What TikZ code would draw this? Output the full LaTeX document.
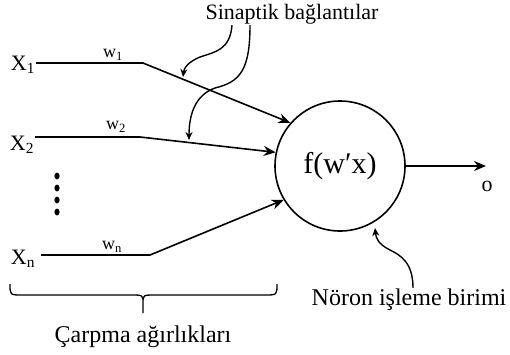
\documentclass[tikz,border=0pt]{standalone}
\usepackage{fontspec}
\setmainfont{Liberation Serif}
\usepackage{tikz}
\usetikzlibrary{arrows.meta, positioning, calc}
\tikzset{
  label/.style={inner sep=1pt, font=\fontsize{22}{24}\selectfont},
  biglabel/.style={inner sep=1pt, font=\fontsize{24}{26}\selectfont},
  wlabel/.style={inner sep=1pt, font=\fontsize{18}{20}\selectfont},
  neuron/.style={
    circle, draw, line width=1.6pt,
    minimum size=130pt, inner sep=0pt,
    font=\fontsize{30}{32}\selectfont,
  },
  wire/.style={line width=1.6pt},
  arrow/.style={-{Stealth[length=12pt, width=10pt]}, line width=1.6pt},
  pointer/.style={-{Stealth[length=8pt, width=7pt]}, line width=1.4pt},
}

\begin{document}
\begin{tikzpicture}[x=1pt, y=-1pt]
  \useasboundingbox (0,0) rectangle (510,354);

  % Inputs
  \node[label] (x1) at (23,65) {X\textsubscript{1}};
  \node[label] (x2) at (22,145) {X\textsubscript{2}};
  \node[label] (xn) at (23,259) {X\textsubscript{n}};

  % Dots
  \foreach \y in {176,188,200,212}
    \fill (57,\y) ellipse (2.6pt and 3.4pt);

  % Neuron
  \node[neuron] (neuron) at (340,166) {f(w′x)};

  % Weight bends
  \coordinate (b1) at (143,63);
  \coordinate (b2) at (140,137);
  \coordinate (bn) at (150,255);

  \node[wlabel] (w1) at (113,55) {w\textsubscript{1}};
  \node[wlabel] (w2) at (116,127) {w\textsubscript{2}};
  \node[wlabel] (wn) at (112,247) {w\textsubscript{n}};

  % Output
  \coordinate (out) at (486,166);
  \node[label] (o) at (487,186) {o};

  % Texts
  \node[label] (syn) at (292,14) {Sinaptik bağlantılar};
  \node[biglabel] (unit) at (409,300) {Nöron işleme birimi};
  \node[biglabel] (mult) at (143,337) {Çarpma ağırlıkları};

  % Wires
  \draw[arrow] (x1.east |- b1) -- (b1) -- (neuron.139);
  \draw[arrow] (x2.east |- b2) -- (b2) -- (neuron.168);
  \draw[arrow] ([xshift=5pt]xn.east |- bn) -- (bn) -- (neuron.211);
  \draw[arrow] (neuron.east) -- (out);

  % Synapse pointers
  \coordinate (s1) at (183,77);
  \coordinate (s2) at (189,140);
  \draw[pointer] (syn.south -| 232,0) .. controls (230,50) and (215,52) .. (200,57)
    .. controls (188,62) and (184,68) .. (s1);
  \draw[pointer] (syn.south -| 250,0) .. controls (250,70) and (240,82) .. (215,88)
    .. controls (195,95) and (189,115) .. (s2);

  % Unit pointer
  \coordinate (u1) at (375,228);
  \draw[pointer] (unit.north -| 413,0) .. controls (413,262) and (400,255) .. (390,250)
    .. controls (378,244) and (376,238) .. (u1);

  % Brace
  \draw[wire, line width=1.3pt] (10,284) .. controls (10,295) .. (22,295) -- (131,295)
    .. controls (143,295) .. (143,303) -- (143,313)
    (143,303) .. controls (143,295) .. (155,295) -- (265,295)
    .. controls (277,295) .. (277,284);

\end{tikzpicture}
\end{document}
